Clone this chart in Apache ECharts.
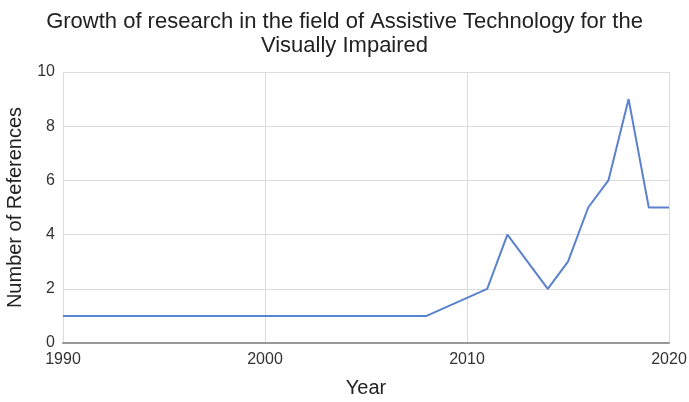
<!DOCTYPE html>
<html>
<head>
<meta charset="utf-8">
<script src="https://cdn.jsdelivr.net/npm/echarts@6/dist/echarts.min.js"></script>
<style>
  html, body { margin: 0; padding: 0; background: #fff; }
  #chart { width: 689px; height: 402px; }
</style>
</head>
<body>
<div id="chart"></div>
<script>
// Publications per year
const years = [1990, 1991, 1992, 1993, 1994, 1995, 1996, 1997, 1998, 1999,
               2000, 2001, 2002, 2003, 2004, 2005, 2006, 2007, 2008,
               2011, 2012, 2014, 2015, 2016, 2017, 2018, 2019, 2020];
const references = [1, 1, 1, 1, 1, 1, 1, 1, 1, 1,
                    1, 1, 1, 1, 1, 1, 1, 1, 1,
                    2, 4, 2, 3, 5, 6, 9, 5, 5];
const titleText = 'Growth of research in the field of Assistive Technology for the\nVisually Impaired';
const xName = 'Year';
const yName = 'Number of References';

const font = '"Liberation Sans", Arial, sans-serif';
const chart = echarts.init(document.getElementById('chart'), null, { renderer: 'canvas' });

chart.setOption({
  animation: false,
  backgroundColor: '#ffffff',
  title: {
    text: titleText,
    left: 'center',
    top: 5,
    textStyle: { fontFamily: font, fontSize: 22, fontWeight: 'normal', color: '#222', lineHeight: 24 }
  },
  grid: { left: 63, right: 20, top: 72, bottom: 59, containLabel: false, outerBoundsMode: 'none' },
  xAxis: {
    type: 'value',
    min: 1990,
    max: 2020,
    interval: 10,
    name: xName,
    nameLocation: 'middle',
    nameGap: 35,
    nameTextStyle: { fontFamily: font, fontSize: 20, color: '#222' },
    axisLine: { show: true, lineStyle: { color: '#999', width: 2 } },
    axisTick: { show: false },
    axisLabel: { fontFamily: font, fontSize: 16, color: '#333', margin: 9, formatter: v => String(v) },
    splitLine: { show: true, lineStyle: { color: '#dcdcdc', width: 1 } }
  },
  yAxis: {
    type: 'value',
    min: 0,
    max: 10,
    interval: 2,
    name: yName,
    nameLocation: 'middle',
    nameGap: 38,
    nameTextStyle: { fontFamily: font, fontSize: 20, color: '#222' },
    axisLine: { show: false },
    axisTick: { show: false },
    axisLabel: { fontFamily: font, fontSize: 16, color: '#333', margin: 8 },
    splitLine: { show: true, lineStyle: { color: '#dcdcdc', width: 1 } }
  },
  series: [{
    type: 'line',
    data: years.map((y, i) => [y, references[i]]),
    showSymbol: false,
    lineStyle: { color: '#5b82cc', width: 2 },
    itemStyle: { color: '#5b82cc' }
  }]
});
</script>
</body>
</html>
